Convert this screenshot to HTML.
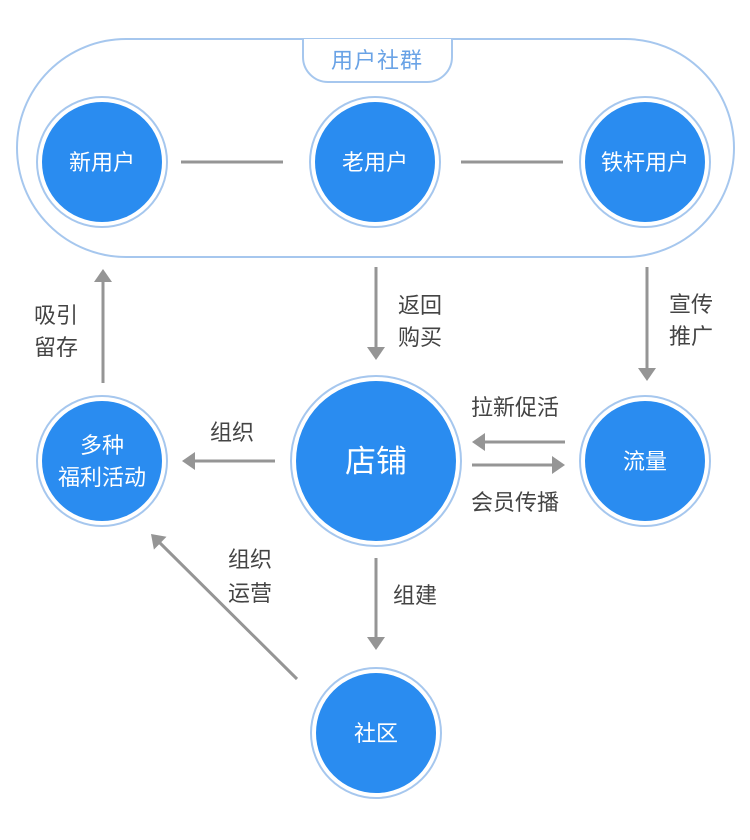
<!DOCTYPE html>
<html>
<head>
<meta charset="utf-8">
<style>
html,body{margin:0;padding:0;background:#fff;}
svg{display:block;}
text{font-family:"Liberation Sans","Noto Sans CJK SC",sans-serif;}
</style>
</head>
<body>
<svg width="750" height="840" viewBox="0 0 750 840" xmlns="http://www.w3.org/2000/svg">
  <rect width="750" height="840" fill="#fff"/>

  <!-- pill container -->
  <rect x="17" y="39" width="717" height="218" rx="109" ry="109" fill="#fff" stroke="#a6c7ee" stroke-width="2"/>
  <!-- tab -->
  <path d="M303,39 V57 A25,25 0 0 0 328,82 H427 A25,25 0 0 0 452,57 V39" fill="#fff" stroke="#a6c7ee" stroke-width="2"/>
  <text x="377" y="68" font-size="22" fill="#6aa3e6" text-anchor="middle" letter-spacing="1">用户社群</text>

  <!-- connectors top -->
  <line x1="181" y1="162" x2="283" y2="162" stroke="#959595" stroke-width="3"/>
  <line x1="461" y1="162" x2="563" y2="162" stroke="#959595" stroke-width="3"/>

  <!-- circles -->
  <g>
    <circle cx="102" cy="162" r="65" fill="#fff" stroke="#a6c7ee" stroke-width="2"/>
    <circle cx="102" cy="162" r="60" fill="#2a8cf0"/>
    <text x="102" y="170" font-size="22" fill="#fff" text-anchor="middle">新用户</text>

    <circle cx="375" cy="162" r="65" fill="#fff" stroke="#a6c7ee" stroke-width="2"/>
    <circle cx="375" cy="162" r="60" fill="#2a8cf0"/>
    <text x="375" y="170" font-size="22" fill="#fff" text-anchor="middle">老用户</text>

    <circle cx="645" cy="162" r="65" fill="#fff" stroke="#a6c7ee" stroke-width="2"/>
    <circle cx="645" cy="162" r="60" fill="#2a8cf0"/>
    <text x="645" y="170" font-size="22" fill="#fff" text-anchor="middle">铁杆用户</text>

    <circle cx="102" cy="461" r="65" fill="#fff" stroke="#a6c7ee" stroke-width="2"/>
    <circle cx="102" cy="461" r="60" fill="#2a8cf0"/>
    <text x="102" y="453" font-size="22" fill="#fff" text-anchor="middle">多种</text>
    <text x="102" y="485" font-size="22" fill="#fff" text-anchor="middle">福利活动</text>

    <circle cx="376" cy="461" r="85" fill="#fff" stroke="#a6c7ee" stroke-width="2"/>
    <circle cx="376" cy="461" r="80" fill="#2a8cf0"/>
    <text x="376" y="472" font-size="31" fill="#fff" text-anchor="middle">店铺</text>

    <circle cx="645" cy="461" r="65" fill="#fff" stroke="#a6c7ee" stroke-width="2"/>
    <circle cx="645" cy="461" r="60" fill="#2a8cf0"/>
    <text x="645" y="469" font-size="22" fill="#fff" text-anchor="middle">流量</text>

    <circle cx="376" cy="733" r="65" fill="#fff" stroke="#a6c7ee" stroke-width="2"/>
    <circle cx="376" cy="733" r="60" fill="#2a8cf0"/>
    <text x="376" y="741" font-size="22" fill="#fff" text-anchor="middle">社区</text>
  </g>

  <!-- arrows -->
  <g stroke="#959595" stroke-width="3" fill="none">
    <line x1="103" y1="383" x2="103" y2="280"/>
    <line x1="376" y1="267" x2="376" y2="349"/>
    <line x1="647" y1="267" x2="647" y2="370"/>
    <line x1="565" y1="442" x2="483" y2="442"/>
    <line x1="472" y1="465" x2="554" y2="465"/>
    <line x1="275" y1="461" x2="193" y2="461"/>
    <line x1="376" y1="558" x2="376" y2="639"/>
    <line x1="297" y1="679" x2="159" y2="542"/>
  </g>
  <g fill="#959595">
    <polygon points="103,269 94,282 112,282"/>
    <polygon points="376,360 367,347 385,347"/>
    <polygon points="647,381 638,368 656,368"/>
    <polygon points="472,442 485,433 485,451"/>
    <polygon points="565,465 552,456 552,474"/>
    <polygon points="182,461 195,452 195,470"/>
    <polygon points="376,650 367,637 385,637"/>
    <polygon points="151,534 153.9,549.6 166.5,536.8"/>
  </g>

  <!-- labels -->
  <g font-size="22" fill="#444">
    <text x="34" y="323">吸引</text>
    <text x="34" y="355">留存</text>
    <text x="398" y="313">返回</text>
    <text x="398" y="345">购买</text>
    <text x="669" y="312">宣传</text>
    <text x="669" y="344">推广</text>
    <text x="471" y="415">拉新促活</text>
    <text x="471" y="510">会员传播</text>
    <text x="210" y="440">组织</text>
    <text x="228" y="567">组织</text>
    <text x="228" y="601">运营</text>
    <text x="393" y="603">组建</text>
  </g>
</svg>
</body>
</html>
